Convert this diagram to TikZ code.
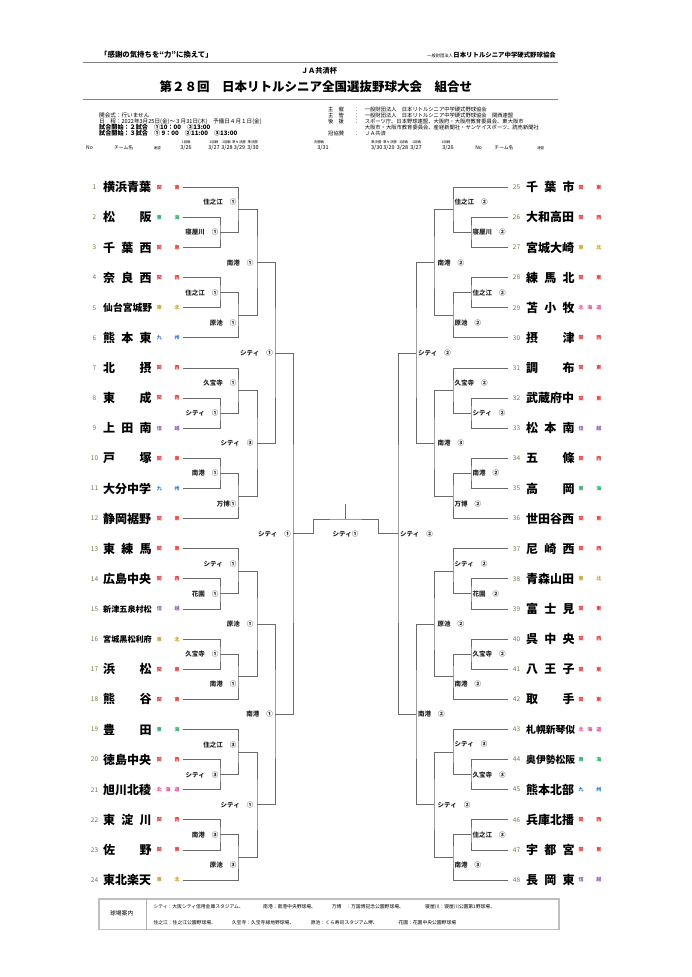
\documentclass[tikz,border=0pt]{standalone}
\usepackage{fontspec}
\setmainfont{Noto Sans CJK JP}
\usetikzlibrary{positioning, calc}
\definecolor{kanto}{HTML}{E53935}
\definecolor{tokai}{HTML}{27AE60}
\definecolor{tohoku}{HTML}{C9A227}
\definecolor{kyushu}{HTML}{2F80D0}
\definecolor{shinetsu}{HTML}{8E5CB8}
\definecolor{hokkaido}{HTML}{E0509E}
\definecolor{numgreen}{HTML}{6F7B4A}
\definecolor{linegray}{HTML}{6A6A6A}

\newcommand\fsz[1]{\fontsize{#1}{#1}\selectfont}
\newcommand\gap{\hspace{7pt}}
\newcommand\rKT{\color{kanto}関\hfill 東}
\newcommand\rKS{\color{kanto}関\hfill 西}
\newcommand\rTK{\color{tokai}東\hfill 海}
\newcommand\rTH{\color{tohoku}東\hfill 北}
\newcommand\rKY{\color{kyushu}九\hfill 州}
\newcommand\rSE{\color{shinetsu}信\hfill 越}
\newcommand\rHK{\color{hokkaido}北\hfill 海\hfill 道}

\begin{document}
\begin{tikzpicture}[x=1pt, y=-1pt,
    declare function={ry(\r)=187.3+(\r-1)*30.12;},
    bline/.style={draw=linegray, line width=0.9pt},
    tname/.style={anchor=west, inner sep=0, font=\bfseries\fsz{12}},
    tno/.style={inner sep=0, font=\fsz{6.5}, text=numgreen},
    treg/.style={anchor=west, inner sep=0, font=\bfseries\fsz{5}},
    lbl/.style={inner sep=0, font=\bfseries\fsz{6.5}, text=black!85},
    small/.style={anchor=west, inner sep=0, font=\fsz{5.3}},
    rnd/.style={inner sep=0, font=\fsz{3.4}},
    dte/.style={inner sep=0, font=\fsz{5.5}},
    vtext/.style={anchor=west, inner sep=0, font=\fsz{4.8}},
]
\fill[white] (0,0) rectangle (691,977);
\useasboundingbox (0,0) rectangle (691,977);

% header
\node[anchor=west, inner sep=0, font=\bfseries\fsz{7.4}] (slogan) at (100,55) {「感謝の気持ちを“力”に換えて」};
\node[anchor=east, inner sep=0, font=\bfseries\fsz{6.4}] (org) at (556,55) {日本リトルシニア中学硬式野球協会};
\node[anchor=base east, inner sep=0, font=\fsz{4.3}] (orgpre) at (org.base west) {一般財団法人};
\draw[black!50, line width=0.7pt] (83,62.7) -- (558,62.7);
\node[inner sep=0, font=\bfseries\fsz{7.2}] (jacup) at (319,71.2) {ＪＡ共済杯};
\node[inner sep=0, font=\bfseries\fsz{12.5}] (title) at (315.8,87) {第２８回　日本リトルシニア全国選抜野球大会　組合せ};
\draw[black!50, line width=0.7pt] (83,99.5) -- (558,99.5);

% info
\node[small, font=\fsz{5.6}] (i1) at (99,115.7) {開会式：行いません};
\node[small, font=\fsz{5.6}] (i2) at (99,121.3) {日　程：2022年3月25日(金)～３月31日(木)　予備日４月１日(金)};
\node[small, font=\bfseries\fsz{6.1}] (i3) at (99,127) {試合開始：２試合　①10：00　②13:00};
\node[small, font=\bfseries\fsz{6.1}] (i4) at (99,132.7) {試合開始：３試合　① 9：00　②11:00　③13:00};

\node[small] (k1) at (328,109.3) {主\hspace{5pt}催};
\node[small] (k2) at (328,115.3) {主\hspace{5pt}管};
\node[small] (k3) at (328,121.3) {後\hspace{5pt}援};
\node[small] (k5) at (328,133.3) {冠協賛};
\foreach \y/\t [count=\c] in {109.3/{：　一般財団法人　日本リトルシニア中学硬式野球協会},
    115.3/{：　一般財団法人　日本リトルシニア中学硬式野球協会　関西連盟},
    121.3/{：　スポーツ庁、日本野球連盟、大阪府・大阪府教育委員会、東大阪市},
    127.3/{\phantom{：　}大阪市・大阪市教育委員会、産経新聞社・サンケイスポーツ、読売新聞社},
    133.3/{：　ＪＡ共済}}
    \node[small] (v\c) at (354,\y) {\t};

% round heads
\foreach \x/\t [count=\c] in {186.3/1回戦, 214/2回戦, 226.5/3回戦, 239/準々決勝, 252.7/準決勝, 319/決勝戦,
    376.3/準決勝, 390/準々決勝, 403.7/3回戦, 416.7/2回戦, 446/1回戦}
    \node[rnd] (rd\c) at (\x,142) {\t};
\foreach \x/\t [count=\c] in {186/{3/26}, 214/{3/27}, 227/{3/28}, 239.5/{3/29}, 253/{3/30}, 323/{3/31},
    376.7/{3/30}, 389/{3/29}, 402.5/{3/28}, 416/{3/27}, 448/{3/26}}
    \node[dte] (dt\c) at (\x,148) {\t};
\foreach \x/\t/\s [count=\c] in {89.5/No/5, 123.7/チーム名/4.8, 157.3/連盟/3.4,
    478.7/No/5, 504/チーム名/4.8, 540.7/連盟/3.4}
    \node[inner sep=0, font=\fsz{\s}] (ch\c) at (\x,148) {\t};

% teams, left
\foreach \i/\nm/\rg in {
    1/横浜青葉/\rKT, 2/松\hfill 阪/\rTK, 3/千\hfill 葉\hfill 西/\rKT,
    4/奈\hfill 良\hfill 西/\rKS, 5/{\fsz{9.8}仙台宮城野}/\rTH, 6/熊\hfill 本\hfill 東/\rKY,
    7/北\hfill 摂/\rKS, 8/東\hfill 成/\rKS, 9/上\hfill 田\hfill 南/\rSE,
    10/戸\hfill 塚/\rKT, 11/大分中学/\rKY, 12/静岡裾野/\rKT,
    13/東\hfill 練\hfill 馬/\rKT, 14/広島中央/\rKS, 15/{\fsz{8.1}新津五泉村松}/\rSE,
    16/{\fsz{8.1}宮城黒松利府}/\rTH, 17/浜\hfill 松/\rKT, 18/熊\hfill 谷/\rKT,
    19/豊\hfill 田/\rTK, 20/徳島中央/\rKS, 21/旭川北稜/\rHK,
    22/東\hfill 淀\hfill 川/\rKS, 23/佐\hfill 野/\rKT, 24/東北楽天/\rTH}{
    \node[tno] (n\i) at (94.5,{ry(\i)}) {\i};
    \node[tname] (t\i) at (103,{ry(\i)}) {\makebox[48.5pt][s]{\nm}};
    \node[treg] (r\i) at (156.6,{ry(\i)}) {\makebox[22.8pt][s]{\rg}};
    \coordinate (e\i) at (183,{ry(\i)});
}

% teams, right
\foreach \i/\nm/\rg in {
    25/千\hfill 葉\hfill 市/\rKT, 26/大和高田/\rKS, 27/宮城大崎/\rTH,
    28/練\hfill 馬\hfill 北/\rKT, 29/苫\hfill 小\hfill 牧/\rHK, 30/摂\hfill 津/\rKS,
    31/調\hfill 布/\rKT, 32/武蔵府中/\rKT, 33/松\hfill 本\hfill 南/\rSE,
    34/五\hfill 條/\rKS, 35/高\hfill 岡/\rTK, 36/世田谷西/\rKT,
    37/尼\hfill 崎\hfill 西/\rKS, 38/青森山田/\rTH, 39/富\hfill 士\hfill 見/\rKT,
    40/呉\hfill 中\hfill 央/\rKS, 41/八\hfill 王\hfill 子/\rKT, 42/取\hfill 手/\rKT,
    43/{\fsz{9.8}札幌新琴似}/\rHK, 44/{\fsz{9.8}奥伊勢松阪}/\rTK, 45/熊本北部/\rKY,
    46/兵庫北播/\rKS, 47/宇\hfill 都\hfill 宮/\rKT, 48/長\hfill 岡\hfill 東/\rSE}{
    \pgfmathtruncatemacro\r{\i-24}
    \node[tno] (n\i) at (516.5,{ry(\r)}) {\i};
    \node[tname] (t\i) at (526,{ry(\r)}) {\makebox[48.5pt][s]{\nm}};
    \node[treg] (r\i) at (578.3,{ry(\r)}) {\makebox[22.8pt][s]{\rg}};
    \coordinate (e\i) at (508,{ry(\r)});
}

% blocks of six
\foreach \g/\tA/\pA/\sx/\pB/\tB in {
    0/住之江\gap ①/寝屋川\gap ①/南港\gap ①/住之江\gap ①/原池\gap ①,
    1/久宝寺\gap ①/シティ\gap ①/シティ\gap ③/南港\gap ①/万博①,
    2/シティ\gap ①/花園\gap ①/原池\gap ①/久宝寺\gap ①/南港\gap ①,
    3/住之江\gap ③/シティ\gap ③/シティ\gap ①/南港\gap ③/原池\gap ③,
    4/住之江\gap ②/寝屋川\gap ②/南港\gap ②/住之江\gap ②/原池\gap ②,
    5/久宝寺\gap ②/シティ\gap ②/南港\gap ③/南港\gap ②/万博\gap ②,
    6/シティ\gap ②/花園\gap ②/原池\gap ②/久宝寺\gap ②/南港\gap ②,
    7/シティ\gap ③/久宝寺\gap ③/シティ\gap ②/住之江\gap ③/南港\gap ③}{
    \ifnum\g<4 \def\sg{1}\def\anc{east}\else \def\sg{-1}\def\anc{west}\fi
    \pgfmathtruncatemacro\rb{6*mod(\g,4)}
    \pgfmathtruncatemacro\ka{6*\g+1}
    \pgfmathtruncatemacro\kb{6*\g+2}
    \pgfmathtruncatemacro\kc{6*\g+3}
    \pgfmathtruncatemacro\kd{6*\g+4}
    \pgfmathtruncatemacro\ke{6*\g+5}
    \pgfmathtruncatemacro\kf{6*\g+6}
    \pgfmathsetmacro\xA{345.5-(\sg)*125.5}
    \pgfmathsetmacro\xB{345.5-(\sg)*107.5}
    \pgfmathsetmacro\xC{345.5-(\sg)*88.5}
    \coordinate (pa\g) at (\xA,{ry(\rb+2.5)});
    \coordinate (pb\g) at (\xA,{ry(\rb+4.5)});
    \coordinate (ta\g) at (\xB,{ry(\rb+1.75)});
    \coordinate (tb\g) at (\xB,{ry(\rb+5.25)});
    \coordinate (s\g) at (\xC,{ry(\rb+3.5)});
    \draw[bline] (e\kb) -| (pa\g) |- (e\kc);
    \draw[bline] (e\ka) -| (ta\g) |- (pa\g);
    \draw[bline] (e\kd) -| (pb\g) |- (e\ke);
    \draw[bline] (pb\g) -| (tb\g) |- (e\kf);
    \draw[bline] (ta\g) -| (s\g) |- (tb\g);
    \node[lbl, anchor=\anc] (la\g) at ({\xB-(\sg)*1.5},{ry(\rb+1.5)}) {\tA};
    \node[lbl, anchor=\anc] (lp\g) at ({\xA-(\sg)*1.5},{ry(\rb+2.5)}) {\pA};
    \node[lbl, anchor=\anc] (ls\g) at ({\xC-(\sg)*3.5},{ry(\rb+3.5)}) {\sx};
    \node[lbl, anchor=\anc] (lq\g) at ({\xA-(\sg)*1.5},{ry(\rb+4.5)}) {\pB};
    \node[lbl, anchor=\anc] (lb\g) at ({\xB-(\sg)*1.5},{ry(\rb+5.5)}) {\tB};
}

% blocks of twelve
\foreach \h/\lab in {0/シティ\gap ①, 1/南港\gap ①, 2/シティ\gap ②, 3/南港\gap ②}{
    \ifnum\h<2 \def\sg{1}\def\anc{east}\else \def\sg{-1}\def\anc{west}\fi
    \pgfmathtruncatemacro\ga{2*\h}
    \pgfmathtruncatemacro\gb{2*\h+1}
    \pgfmathtruncatemacro\rb{12*mod(\h,2)}
    \pgfmathsetmacro\xD{345.5-(\sg)*70.5}
    \coordinate (w\h) at (\xD,{ry(\rb+6.5)});
    \draw[bline] (s\ga) -| (w\h) |- (s\gb);
    \node[lbl, anchor=\anc] (lw\h) at ({\xD-(\sg)*2},{ry(\rb+6.5)}) {\lab};
}

% semifinals and final
\coordinate (mL) at (293,{ry(12.5)});
\coordinate (mR) at (398,{ry(12.5)});
\coordinate (fin) at (345.5,519);
\coordinate (cup) at (345.5,504);
\draw[bline] (w0) -| (mL) |- (w1);
\draw[bline] (w2) -| (mR) |- (w3);
\draw[bline] (mL) -- ++(20,0) |- (fin) -| ($(mR)+(-20,0)$) -- (mR);
\draw[bline] (fin) -- (cup);
\node[lbl, anchor=east] (lmL) at ($(mL)+(-2,0)$) {シティ\gap ①};
\node[lbl, anchor=west] (lmR) at ($(mR)+(2,0)$) {シティ\gap ②};
\node[lbl] (lfin) at (345.5,{ry(12.5)}) {シティ①};

% venues
\node[draw=black!25, line width=1.3pt, anchor=north west, minimum width=460pt, minimum height=30.7pt, inner sep=0] (venue) at (98.3,898.3) {};
\draw[black!30, line width=0.6pt] ([xshift=48.4pt]venue.north west) -- ([xshift=48.4pt]venue.south west);
\node[inner sep=0, font=\fsz{5.8}] (vhead) at (121.7,913.3) {球場案内};
\foreach \x/\y/\t [count=\c] in {153.3/906.7/{シティ：大阪シティ信用金庫スタジアム、}, 263/906.7/{南港：南港中央野球場、},
    331.7/906.7/{万博　：万国博記念公園野球場、}, 425/906.7/{寝屋川：寝屋川公園第1野球場、},
    153.3/922.3/{住之江：住之江公園野球場、}, 231.7/922.3/{久宝寺：久宝寺緑地野球場、},
    310.7/922.3/{原池：くら寿司スタジアム堺、}, 398.3/922.3/{花園：花園中央公園野球場}}
    \node[vtext] (vn\c) at (\x,\y) {\t};
\end{tikzpicture}
\end{document}
